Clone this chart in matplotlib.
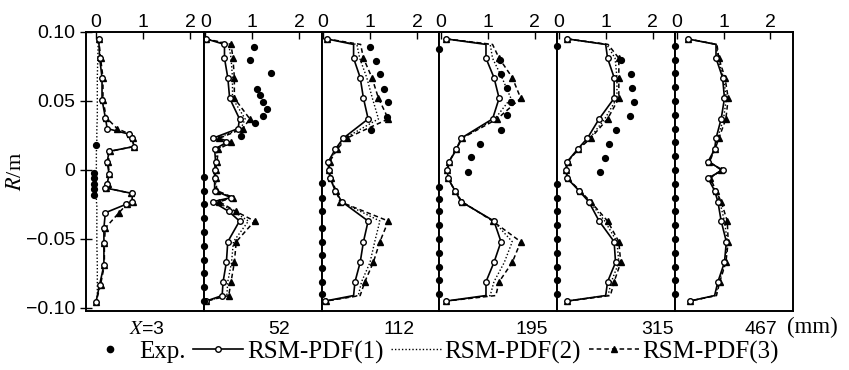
import matplotlib.pyplot as plt
from matplotlib.lines import Line2D

plt.rcParams['font.family'] = ['Liberation Sans', 'DejaVu Sans']
plt.rcParams['mathtext.fontset'] = 'stix'

# 各截面 X (mm)
sections = ["$X$=3", "52", "112", "195", "315", "467"]

# X=3：径向位置 R(m) 与三种模拟结果
r_x3 = [0.095, 0.081, 0.067, 0.051, 0.038, 0.030, 0.026, 0.023, 0.017, 0.0135, 0.006, -0.003,
        -0.010, -0.013, -0.017, -0.023, -0.025, -0.031, -0.042, -0.053, -0.069, -0.083, -0.096]
pdf1_x3 = [0.06, 0.08, 0.13, 0.13, 0.20, 0.24, 0.70, 0.77, 0.81, 0.28, 0.24, 0.28,
           0.24, 0.20, 0.77, 0.77, 0.63, 0.20, 0.17, 0.17, 0.17, 0.08, 0.00]
pdf2_x3 = [0.05, 0.04, 0.03, 0.03, 0.03, 0.02, 0.02, 0.02, 0.02, 0.01, 0.01, 0.01,
           0.01, 0.01, 0.01, 0.01, 0.02, 0.02, 0.02, 0.02, 0.03, 0.03, 0.03]
pdf3_x3 = [0.06, 0.10, 0.15, 0.15, 0.22, 0.45, 0.72, 0.78, 0.80, 0.30, 0.26, 0.28,
           0.26, 0.22, 0.75, 0.78, 0.65, 0.49, 0.20, 0.18, 0.18, 0.10, 0.00]
exp_r_x3 = [0.018, -0.002, -0.006, -0.010, -0.014, -0.018]
exp_x3 = [0.00, -0.05, -0.05, -0.05, -0.05, -0.05]

# X=52
r_52 = [0.095, 0.091, 0.081, 0.067, 0.052, 0.037, 0.030, 0.023, 0.020, 0.015, 0.006, 0.0,
        -0.006, -0.015, -0.020, -0.023, -0.030, -0.037, -0.052, -0.067, -0.081, -0.091, -0.095]
pdf1_52 = [0.02, 0.41, 0.41, 0.48, 0.52, 0.73, 0.70, 0.16, 0.45, 0.20, 0.22, 0.20,
           0.20, 0.20, 0.55, 0.16, 0.50, 0.73, 0.48, 0.45, 0.38, 0.36, 0.02]
pdf2_52 = [0.02, 0.50, 0.55, 0.58, 0.58, 0.85, 0.76, 0.25, 0.50, 0.25, 0.23, 0.21,
           0.21, 0.23, 0.58, 0.25, 0.60, 0.92, 0.60, 0.56, 0.48, 0.46, 0.02]
pdf3_52 = [0.02, 0.55, 0.59, 0.62, 0.62, 0.95, 0.80, 0.30, 0.55, 0.28, 0.25, 0.22,
           0.22, 0.25, 0.60, 0.30, 0.65, 1.05, 0.66, 0.62, 0.55, 0.50, 0.02]
exp_r_52 = [0.089, 0.080, 0.070, 0.0585, 0.054, 0.0495, 0.044, 0.039, 0.034, 0.0244,
            -0.005, -0.015, -0.025, -0.035, -0.045, -0.055, -0.065, -0.075, -0.085, -0.095]
exp_52 = [1.04, 0.96, 1.40, 1.10, 1.17, 1.24, 1.31, 1.24, 1.06, 0.77,
          -0.03, -0.03, -0.03, -0.03, -0.03, -0.03, -0.03, -0.03, -0.03, -0.03]

# X=112 ~ 467 共用的径向网格
r_grid = [0.095, 0.091, 0.081, 0.067, 0.052, 0.037, 0.023, 0.015, 0.006, 0.0,
          -0.006, -0.015, -0.023, -0.037, -0.052, -0.067, -0.081, -0.091, -0.095]

pdf1_112 = [0.08, 0.65, 0.65, 0.79, 0.86, 0.96, 0.43, 0.26, 0.11, 0.12,
            0.15, 0.26, 0.40, 0.96, 0.86, 0.79, 0.68, 0.65, 0.04]
pdf2_112 = [0.08, 0.72, 0.78, 0.93, 1.05, 1.18, 0.46, 0.28, 0.12, 0.12,
            0.15, 0.27, 0.38, 1.21, 1.10, 1.00, 0.82, 0.75, 0.05]
pdf3_112 = [0.08, 0.80, 0.86, 1.04, 1.18, 1.39, 0.50, 0.30, 0.14, 0.13,
            0.16, 0.28, 0.36, 1.39, 1.21, 1.07, 0.89, 0.79, 0.06]
exp_r_112 = [0.0894, 0.079, 0.0696, 0.059, 0.0495, 0.0386, 0.029,
             -0.0095, -0.020, -0.030, -0.042, -0.052, -0.0615, -0.071, -0.081, -0.090]
exp_112 = [1.00, 1.13, 1.21, 1.30, 1.38, 1.36, 1.02,
           -0.03, -0.03, -0.03, -0.03, -0.03, -0.03, -0.03, -0.03, -0.03]

pdf1_195 = [0.11, 0.96, 0.96, 1.13, 1.24, 1.10, 0.43, 0.33, 0.18, 0.14,
            0.15, 0.30, 0.43, 1.13, 1.28, 1.13, 0.96, 0.96, 0.11]
pdf2_195 = [0.11, 1.05, 1.10, 1.30, 1.49, 1.15, 0.44, 0.33, 0.17, 0.13,
            0.15, 0.30, 0.44, 1.12, 1.52, 1.35, 1.13, 1.05, 0.11]
pdf3_195 = [0.11, 1.10, 1.24, 1.52, 1.70, 1.20, 0.45, 0.33, 0.17, 0.13,
            0.15, 0.30, 0.45, 1.10, 1.70, 1.52, 1.24, 1.17, 0.11]
exp_r_195 = [0.0797, 0.0696, 0.0592, 0.0495, 0.0398, 0.029, 0.0188, 0.0094, -0.0015,
             0.088, -0.012, -0.021, -0.030, -0.040, -0.050, -0.060, -0.070, -0.080, -0.090]
exp_195 = [1.26, 1.29, 1.40, 1.50, 1.40, 1.29, 0.83, 0.64, 0.57,
           -0.03, -0.03, -0.03, -0.03, -0.03, -0.03, -0.03, -0.03, -0.03, -0.03]

pdf1_315 = [0.18, 1.00, 1.04, 1.18, 1.18, 0.86, 0.61, 0.40, 0.18, 0.15,
            0.18, 0.43, 0.64, 0.86, 1.18, 1.21, 1.04, 1.00, 0.18]
pdf2_315 = [0.18, 1.02, 1.20, 1.24, 1.24, 0.98, 0.66, 0.41, 0.18, 0.15,
            0.18, 0.44, 0.66, 0.98, 1.24, 1.28, 1.12, 1.05, 0.18]
pdf3_315 = [0.18, 1.05, 1.28, 1.28, 1.28, 1.04, 0.68, 0.42, 0.19, 0.16,
            0.19, 0.45, 0.68, 1.04, 1.28, 1.32, 1.18, 1.10, 0.18]
exp_r_315 = [0.0797, 0.0696, 0.0592, 0.049, 0.039, 0.029, 0.0188, 0.0089, -0.0017,
             0.090, -0.010, -0.020, -0.030, -0.040, -0.050, -0.060, -0.070, -0.080, -0.090]
exp_315 = [1.32, 1.53, 1.55, 1.60, 1.51, 1.23, 1.07, 0.98, 0.88,
           -0.03, -0.03, -0.03, -0.03, -0.03, -0.03, -0.03, -0.03, -0.03, -0.03]

pdf1_467 = [0.24, 0.84, 0.84, 0.98, 1.02, 0.95, 0.84, 0.81, 0.67, 0.98,
            0.67, 0.81, 0.88, 0.95, 1.06, 1.02, 0.88, 0.81, 0.28]
pdf2_467 = [0.24, 0.85, 0.88, 1.00, 1.06, 1.00, 0.87, 0.82, 0.69, 0.96,
            0.70, 0.83, 0.92, 1.02, 1.08, 1.04, 0.90, 0.83, 0.28]
pdf3_467 = [0.24, 0.86, 0.90, 1.03, 1.10, 1.05, 0.90, 0.82, 0.70, 0.95,
            0.72, 0.84, 0.95, 1.08, 1.10, 1.05, 0.92, 0.85, 0.28]
exp_r_467 = [0.090, 0.080, 0.070, 0.060, 0.050, 0.040, 0.030, 0.020, 0.010, 0.0,
             -0.010, -0.020, -0.030, -0.040, -0.050, -0.060, -0.070, -0.080, -0.090]
exp_467 = [-0.03, -0.03, -0.03, -0.03, -0.03, -0.03, -0.03, -0.03, -0.03, -0.03,
           -0.03, -0.03, -0.03, -0.03, -0.03, -0.03, -0.03, -0.03, -0.03]

panels = [
    (r_x3, pdf1_x3, pdf2_x3, pdf3_x3, exp_r_x3, exp_x3),
    (r_52, pdf1_52, pdf2_52, pdf3_52, exp_r_52, exp_52),
    (r_grid, pdf1_112, pdf2_112, pdf3_112, exp_r_112, exp_112),
    (r_grid, pdf1_195, pdf2_195, pdf3_195, exp_r_195, exp_195),
    (r_grid, pdf1_315, pdf2_315, pdf3_315, exp_r_315, exp_315),
    (r_grid, pdf1_467, pdf2_467, pdf3_467, exp_r_467, exp_467),
]
# 截面标注在各分图中的水平位置
label_pos = [0.52, 0.64, 0.66, 0.78, 0.85, 0.73]

fig, axes = plt.subplots(1, 6, figsize=(8.49, 3.70), dpi=100, sharey=True)
fig.subplots_adjust(left=86 / 849, right=793 / 849, top=1 - 32 / 370, bottom=1 - 311 / 370, wspace=0)

for i, (ax, (r, p1, p2, p3, er, ex)) in enumerate(zip(axes, panels)):
    n = len(r)
    # 近壁面的折点不画标记
    mk = list(range(n)) if i < 2 else [k for k in range(n) if k not in (1, n - 2)]
    ax.plot(p2, r, color='k', lw=1.0, ls=(0, (1, 1.5)))
    ax.plot(p3, r, color='k', lw=1.1, ls=(0, (3, 2)), marker='^', ms=4.5,
            mfc='k', mec='k', markevery=mk)
    ax.plot(p1, r, color='k', lw=1.2, marker='o', ms=4, mfc='white', mec='k',
            mew=1.0, markevery=mk)
    ax.plot(ex, er, ls='none', marker='o', ms=4.2, color='k', clip_on=False, zorder=4)

    ax.set_ylim(-0.1022, 0.10)
    ax.set_xlim((-0.21, 2.29) if i == 0 else (-0.03, 2.48))
    ax.xaxis.tick_top()
    ax.set_xticks([0, 1, 2])
    ax.tick_params(axis='x', direction='in', length=5, width=1, labelsize=14, pad=1)
    ax.tick_params(axis='y', direction='inout', length=8, width=1, labelsize=14)
    for s in ax.spines.values():
        s.set_linewidth(1.4)
    if i > 0:
        ax.tick_params(axis='y', left=False)
    ax.text(label_pos[i], -0.035, sections[i], transform=ax.transAxes,
            ha='center', va='top', fontsize=14)

axes[0].set_yticks([0.10, 0.05, 0, -0.05, -0.10])
axes[0].set_yticklabels(["0.10", "0.05", "0", "\u22120.05", "\u22120.10"])
axes[0].set_ylabel("$R$/m", family='Liberation Serif', fontsize=16, labelpad=0)

fig.text(812 / 849, 1 - 327 / 370, "(mm)", family='Liberation Serif', fontsize=16.5,
         ha='center', va='center')

handles = [
    Line2D([], [], ls='none', marker='o', ms=4.5, color='k'),
    Line2D([], [], color='k', lw=1.2, marker='o', ms=4, mfc='white', mec='k'),
    Line2D([], [], color='k', lw=1.0, ls=(0, (1, 1.5))),
    Line2D([], [], color='k', lw=1.1, ls=(0, (3, 2)), marker='^', ms=4.5, mfc='k'),
]
labels = ["Exp.", "RSM-PDF(1)", "RSM-PDF(2)", "RSM-PDF(3)"]
fig.legend(handles, labels, ncol=4, loc='center', bbox_to_anchor=(432 / 849, 1 - 352 / 370),
           frameon=False, prop={'family': 'Liberation Serif', 'size': 18},
           handlelength=2.0, handletextpad=0.15, columnspacing=0.3, numpoints=1,
           borderpad=0, borderaxespad=0)

fig.savefig("out.png", dpi=100)
